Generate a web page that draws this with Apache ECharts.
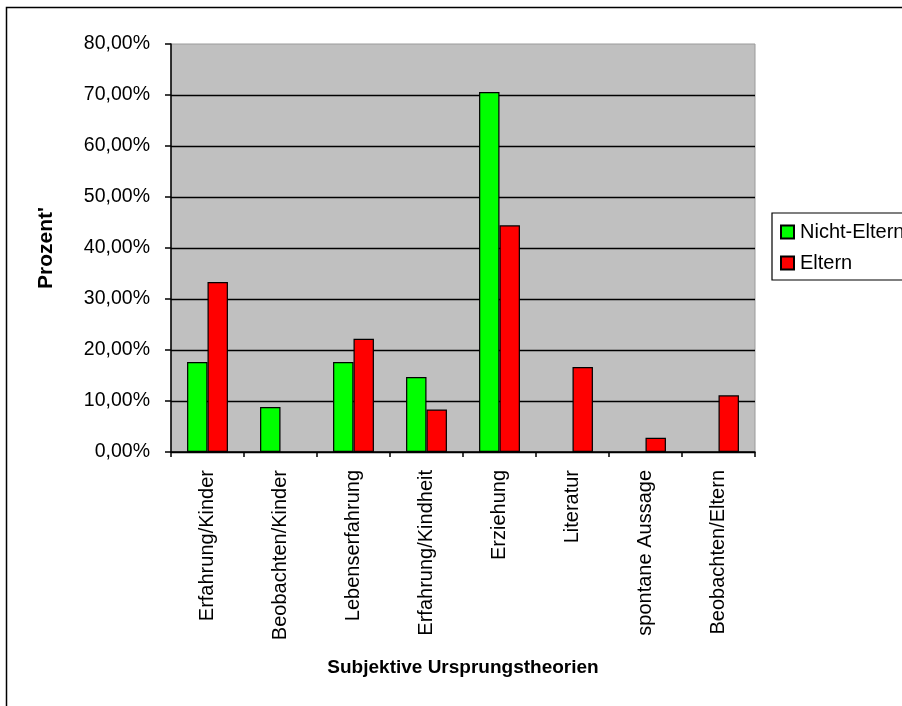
<!DOCTYPE html>
<html>
<head>
<meta charset="utf-8">
<script src="https://cdn.jsdelivr.net/npm/echarts@6/dist/echarts.min.js"></script>
<style>
  html, body { margin: 0; padding: 0; background: #ffffff; }
  #chart { width: 902px; height: 706px; }
</style>
</head>
<body>
<div id="chart"></div>
<script>
// Categories of subjective origin theories
const categories = [
  'Erfahrung/Kinder',
  'Beobachten/Kinder',
  'Lebenserfahrung',
  'Erfahrung/Kindheit',
  'Erziehung',
  'Literatur',
  'spontane Aussage',
  'Beobachten/Eltern'
];

// Percent values per group
const nichtEltern = [17.65, 8.82, 17.65, 14.71, 70.59, null, null, null];
const eltern = [33.33, null, 22.22, 8.33, 44.44, 16.67, 2.78, 11.11];

// Value axis range in percent
const yMin = 0;
const yMax = 80;
const yStep = 10;

const FONT = 'Liberation Sans, Arial, sans-serif';

const chart = echarts.init(document.getElementById('chart'), null, { renderer: 'canvas' });

chart.setOption({
  animation: false,
  backgroundColor: '#ffffff',
  textStyle: { fontFamily: FONT },
  graphic: [
    {
      type: 'rect',
      shape: { x: 6.5, y: 7.5, width: 1000, height: 1000 },
      style: { fill: 'none', stroke: '#000000', lineWidth: 1.5 },
      z: -10
    }
  ],
  grid: {
    left: 171,
    top: 44,
    right: 147,
    bottom: 254,
    show: true,
    backgroundColor: '#C0C0C0',
    borderColor: '#9a9a9a',
    borderWidth: 1
  },
  legend: {
    left: 772,
    top: 213,
    orient: 'vertical',
    itemWidth: 13,
    itemHeight: 13,
    itemGap: 11,
    padding: [9, 8, 7, 8],
    borderColor: '#000000',
    borderWidth: 1.2,
    borderRadius: 0,
    backgroundColor: '#ffffff',
    icon: 'rect',
    textStyle: { fontFamily: FONT, fontSize: 20, color: '#000000', padding: [0, 0, 0, 1] },
    data: ['Nicht-Eltern', 'Eltern']
  },
  xAxis: {
    type: 'category',
    data: categories,
    name: 'Subjektive Ursprungstheorien',
    nameLocation: 'middle',
    nameGap: 206,
    nameTextStyle: { fontFamily: FONT, fontSize: 19, fontWeight: 'bold', color: '#000000' },
    axisLine: { show: true, lineStyle: { color: '#000000', width: 1.5 } },
    axisTick: { show: true, alignWithLabel: false, length: 5, lineStyle: { color: '#000000', width: 1.5 } },
    axisLabel: {
      rotate: 90,
      margin: 18,
      fontFamily: FONT,
      fontSize: 20,
      color: '#000000',
      interval: 0
    },
    splitLine: { show: false }
  },
  yAxis: {
    type: 'value',
    min: yMin,
    max: yMax,
    interval: yStep,
    name: "Prozent'",
    nameLocation: 'middle',
    nameGap: 114,
    nameRotate: 90,
    nameTextStyle: { fontFamily: FONT, fontSize: 21, fontWeight: 'bold', color: '#000000' },
    axisLine: { show: true, lineStyle: { color: '#000000', width: 1.5 } },
    axisTick: { show: true, length: 6, lineStyle: { color: '#000000', width: 1.5 } },
    axisLabel: {
      margin: 21,
      fontFamily: FONT,
      fontSize: 19.5,
      color: '#000000',
      formatter: function (v) { return v.toFixed(2).replace('.', ',') + '%'; }
    },
    splitLine: { show: true, showMaxLine: false, lineStyle: { color: '#000000', width: 1.3 } }
  },
  series: [
    {
      name: 'Nicht-Eltern',
      type: 'bar',
      data: nichtEltern,
      barGap: '0%',
      barCategoryGap: '44%',
      itemStyle: { color: '#00FF00', borderColor: '#000000', borderWidth: 1.2 }
    },
    {
      name: 'Eltern',
      type: 'bar',
      data: eltern,
      barGap: '0%',
      barCategoryGap: '44%',
      itemStyle: { color: '#FF0000', borderColor: '#000000', borderWidth: 1.2 }
    }
  ]
});
</script>
</body>
</html>
